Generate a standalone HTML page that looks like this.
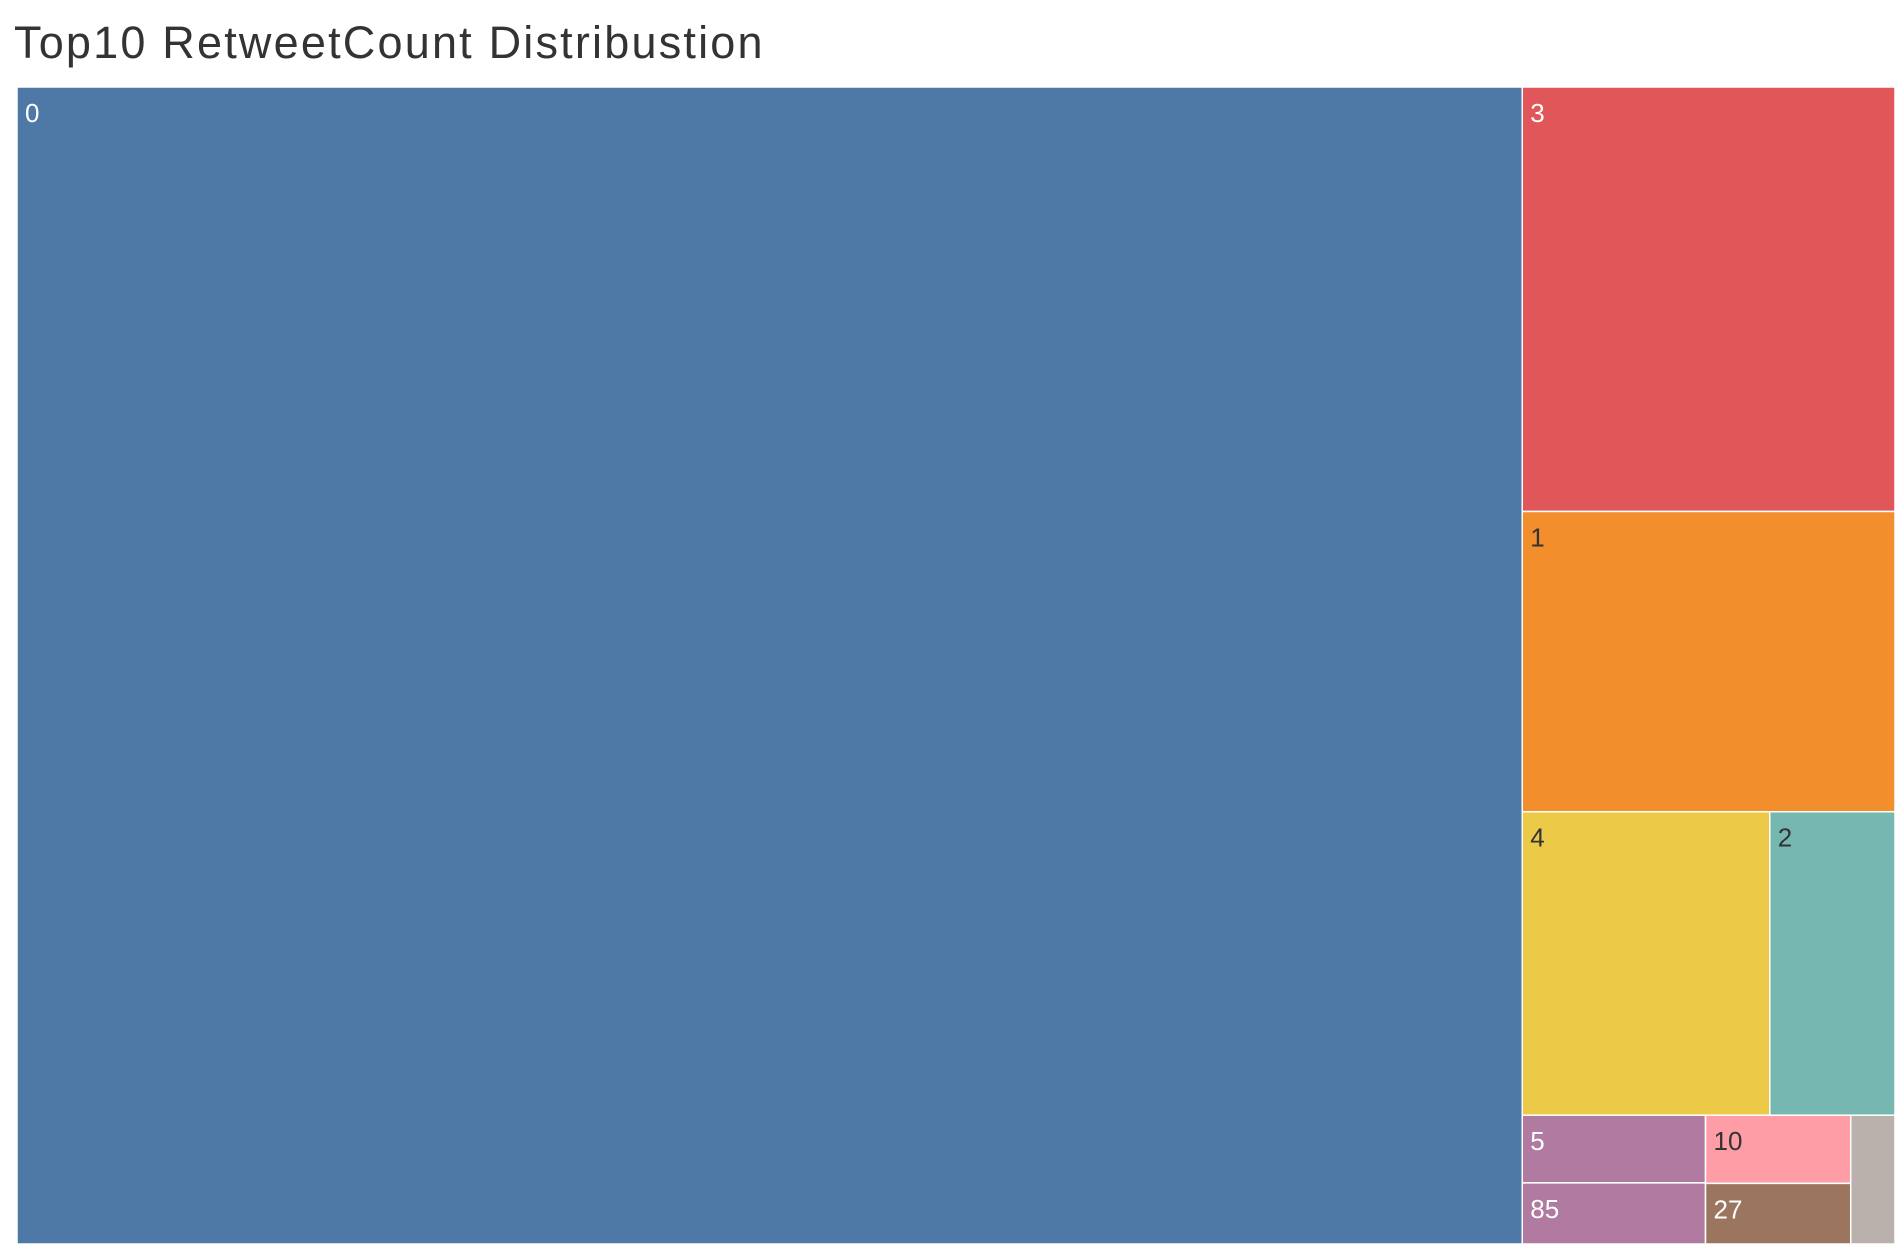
<!DOCTYPE html>
<html><head><meta charset="utf-8"><style>
body{margin:0;background:#fff;width:1897px;height:1250px;overflow:hidden;font-family:"Liberation Sans",sans-serif}
#title{position:absolute;left:14px;top:17px;font-size:45px;color:#333;letter-spacing:2.2px;font-weight:300}
svg{position:absolute;left:0;top:0}
</style></head><body>
<div id="title">Top10 RetweetCount Distribustion</div>
<svg id="chart" width="1897" height="1250"></svg>
<script>
const categories=["0","3","1","4","2","5","85","10","27","other"];
const counts=[17413,1582,1119,751,380,124,112,99,88,57];
const colors=["#4e79a7","#e15759","#f28e2b","#edc948","#76b7b2","#b07aa1","#b07aa1","#ff9da7","#9c755f","#bab0ac"];
const textColors=["#fff","#fff","#333","#333","#333","#fff","#fff","#333","#fff","#fff"];
const showLabel=[1,1,1,1,1,1,1,1,1,0];
const X0=17,Y0=87,W=1878,H=1157;
const svg=document.getElementById('chart');
const NS='http://www.w3.org/2000/svg';
const sum=a=>a.reduce((s,i)=>s+counts[i],0);
const total=sum([0,1,2,3,4,5,6,7,8,9]);
const rects=[];
const bw=W*counts[0]/total;
rects.push([0,X0,Y0,bw,H]);
const rx=X0+bw, rw=W-bw;
const rows=[[1],[2],[3,4],[5,6,7,8,9]];
const rightTotal=sum([1,2,3,4,5,6,7,8,9]);
let y=Y0;
rows.forEach((row,ri)=>{
  const h=H*sum(row)/rightTotal;
  if(ri<3){
    let x=rx;const rs=sum(row);
    row.forEach(i=>{const w=rw*counts[i]/rs;rects.push([i,x,y,w,h]);x+=w;});
  } else {
    const cols=[[5,6],[7,8],[9]];const rs=sum(row);let x=rx;
    cols.forEach(col=>{
      const w=rw*sum(col)/rs;let yy=y;const cs=sum(col);
      col.forEach(i=>{const hh=h*counts[i]/cs;rects.push([i,x,yy,w,hh]);yy+=hh;});
      x+=w;
    });
  }
  y+=h;
});
rects.forEach(([i,x,yy,w,h])=>{
  const r=document.createElementNS(NS,'rect');
  r.setAttribute('x',x);r.setAttribute('y',yy);r.setAttribute('width',w);r.setAttribute('height',h);
  r.setAttribute('fill',colors[i]);r.setAttribute('stroke','#fff');r.setAttribute('stroke-width','1.5');
  
  
  svg.appendChild(r);
  if(showLabel[i]){
    const t=document.createElementNS(NS,'text');
    t.setAttribute('x',x+8);t.setAttribute('y',yy+35);
    t.setAttribute('font-size','26');t.setAttribute('fill',textColors[i]);
    t.setAttribute('font-family','Liberation Sans, sans-serif');
    t.textContent=categories[i];
    
    
    svg.appendChild(t);
  }
});
</script>
</body></html>
